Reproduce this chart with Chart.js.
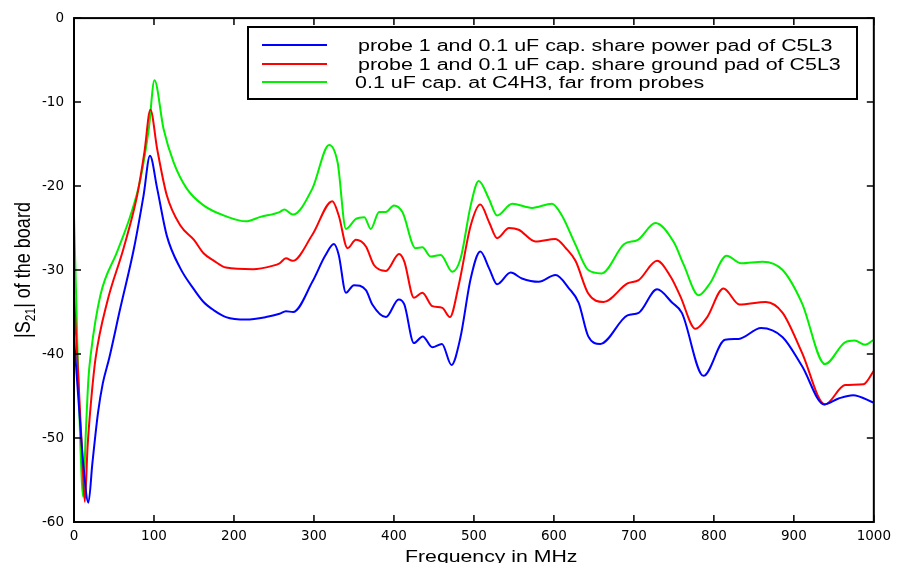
<!DOCTYPE html>
<html>
<head>
<meta charset="utf-8">
<title>|S21| of the board</title>
<script src="https://cdn.jsdelivr.net/npm/chart.js@4/dist/chart.umd.min.js"></script>
<style>
  html, body { margin: 0; padding: 0; background: #fff; }
  #wrap { width: 897px; height: 563px; }
</style>
</head>
<body>
<div id="wrap"><canvas id="s21Chart" width="897" height="563"></canvas></div>
<script>
// Frequency axis ticks (MHz) and magnitude ticks (dB)
const freqTicks = [0, 100, 200, 300, 400, 500, 600, 700, 800, 900, 1000];
const dbTicks = [0, -10, -20, -30, -40, -50, -60];

// probe 1 and cap share power pad
const freqPower = [0, 6, 12, 18, 23, 30, 36, 44, 58, 75, 87, 95, 104, 116, 133, 150, 162, 175, 190, 215, 240, 257, 265, 274, 298, 314, 325, 331, 340, 350, 365, 373, 390, 406, 413, 425, 436, 448, 460, 472, 483, 496, 508, 519, 529, 546, 560, 581, 602, 619, 631, 643, 658, 692, 706, 729, 748, 760, 787, 814, 831, 859, 886, 910, 938, 956, 974, 1000];
const s21Power = [-38, -46, -53.5, -57.7, -53, -47, -43.5, -40.5, -34.5, -27.4, -21.1, -16.4, -20.3, -25.9, -29.8, -32.3, -33.8, -34.8, -35.6, -35.9, -35.6, -35.2, -34.9, -35.0, -31.4, -28.3, -26.9, -28.2, -32.7, -31.8, -32.4, -34.1, -35.6, -33.5, -34.1, -38.7, -37.9, -39.2, -38.8, -41.3, -38.1, -31.0, -27.8, -29.8, -31.7, -30.3, -31.0, -31.4, -30.6, -32.2, -33.9, -37.9, -38.8, -35.4, -35.1, -32.3, -33.9, -35.1, -42.6, -38.3, -38.2, -36.9, -38.0, -41.4, -46.0, -45.3, -44.9, -45.8];

// probe 1 and cap share ground pad
const freqGround = [0, 5, 10, 13.5, 17, 21, 27, 41.5, 62, 79, 88, 95.5, 104, 116, 133, 150, 162, 175, 190, 224, 248, 257, 265, 273.5, 298, 323, 331, 342, 352.5, 365, 375, 390, 406.5, 413, 425, 435.5, 448, 460.5, 470, 481, 496, 508, 519, 529, 544, 556, 577, 602, 615, 627, 643, 662, 692, 706, 729, 746, 758, 777, 791, 812, 832, 865, 886, 910, 939, 964, 987, 1000];
const s21Ground = [-33, -42, -51.5, -57.6, -51, -46, -40.5, -33.8, -27.4, -21.1, -16, -10.9, -15.6, -21.1, -24.7, -26.4, -28.0, -28.9, -29.7, -29.9, -29.5, -29.2, -28.6, -28.9, -25.8, -21.8, -23.5, -27.4, -26.4, -27.2, -29.4, -30.1, -28.1, -29.0, -33.3, -32.7, -34.3, -34.5, -35.6, -31.8, -24.7, -22.2, -24.3, -26.2, -25.0, -25.2, -26.6, -26.3, -27.4, -28.9, -32.8, -33.8, -31.6, -31.2, -28.9, -30.8, -33.1, -37.0, -35.7, -32.2, -34.1, -33.8, -35.1, -39.8, -46.0, -43.7, -43.6, -42.0];

// cap at C4H3, far from probes
const freqFar = [0, 4, 8, 11.5, 14.5, 18, 21, 33, 54, 70.6, 83, 93.5, 100.6, 112, 124.7, 141, 162, 190, 215, 232, 257, 263, 273.5, 298, 319, 329.6, 340, 352.5, 363, 371, 381.5, 390, 400, 410.6, 427, 435.5, 446, 458.5, 473, 483.4, 496, 506, 518.7, 529, 547.8, 572.7, 597.6, 610, 626.6, 643, 659.5, 688, 705, 727, 750, 762, 781, 795, 816, 834, 861, 886, 910, 939, 964, 976, 989, 1000];
const s21Far = [-23.5, -38, -51, -57, -50, -43, -40, -33, -27.8, -23.5, -19.2, -13.2, -7.4, -13.2, -17.2, -20.3, -22.3, -23.6, -24.2, -23.7, -23.1, -22.8, -23.4, -20.3, -15.1, -17.2, -25.1, -23.9, -23.7, -25.1, -23.1, -23.1, -22.3, -23.1, -27.4, -27.3, -28.4, -28.2, -30.2, -28.6, -22.3, -19.4, -21.5, -23.5, -22.1, -22.6, -22.1, -23.5, -26.9, -30.0, -30.4, -26.9, -26.4, -24.4, -26.7, -29.3, -33.0, -31.6, -28.3, -29.2, -29.0, -30.0, -33.9, -41.2, -38.6, -38.4, -38.9, -38.3];

const seriesLabels = [
  'probe 1 and 0.1 uF cap. share power pad of C5L3',
  'probe 1 and 0.1 uF cap. share ground pad of C5L3',
  '0.1 uF cap. at C4H3, far from probes'
];
const seriesColors = ['#0000ff', '#ff0000', '#00f000'];

function toPoints(xs, ys) {
  return xs.map((x, i) => ({ x: x, y: ys[i] }));
}

// Box around the plot with inward tick marks on all four sides
const framePlugin = {
  id: 'frame',
  afterDatasetsDraw(chart) {
    const { ctx, chartArea: a, scales } = chart;
    ctx.save();
    ctx.strokeStyle = '#000';
    ctx.lineWidth = 2;
    ctx.strokeRect(a.left, a.top, a.right - a.left, a.bottom - a.top);
    ctx.lineWidth = 1.5;
    const len = 7;
    ctx.beginPath();
    freqTicks.forEach(v => {
      const px = scales.x.getPixelForValue(v);
      ctx.moveTo(px, a.bottom); ctx.lineTo(px, a.bottom - len);
      ctx.moveTo(px, a.top); ctx.lineTo(px, a.top + len);
    });
    dbTicks.forEach(v => {
      const py = scales.y.getPixelForValue(v);
      ctx.moveTo(a.left, py); ctx.lineTo(a.left + len, py);
      ctx.moveTo(a.right, py); ctx.lineTo(a.right - len, py);
    });
    ctx.stroke();
    ctx.restore();
  }
};

// Boxed key in the upper right, plus axis titles (subscript in the y title)
const keyPlugin = {
  id: 'key',
  afterDraw(chart) {
    const ctx = chart.ctx;
    ctx.save();
    // key box
    ctx.fillStyle = '#fff';
    ctx.fillRect(248, 27, 609, 72);
    ctx.strokeStyle = '#000';
    ctx.lineWidth = 2;
    ctx.strokeRect(248, 27, 609, 72);

    const rows = [45, 64, 82];
    const textX = [358, 358, 355];
    chart.data.datasets.forEach((ds, i) => {
      ctx.strokeStyle = ds.borderColor;
      ctx.lineWidth = 2;
      ctx.beginPath();
      ctx.moveTo(262, rows[i]);
      ctx.lineTo(327, rows[i]);
      ctx.stroke();
      ctx.save();
      ctx.translate(textX[i], rows[i] + 5.5);
      ctx.scale(1.34, 1);
      ctx.fillStyle = '#000';
      ctx.font = '16px "Liberation Sans", Arial, sans-serif';
      ctx.textBaseline = 'alphabetic';
      ctx.fillText(ds.label, 0, 0);
      ctx.restore();
    });

    // x title
    ctx.save();
    ctx.translate(405, 562);
    ctx.scale(1.25, 1);
    ctx.fillStyle = '#000';
    ctx.font = '17px "Liberation Sans", Arial, sans-serif';
    ctx.fillText('Frequency in MHz', 0, 0);
    ctx.restore();

    // y title: |S21| of the board
    ctx.save();
    ctx.translate(30, 270);
    ctx.rotate(-Math.PI / 2);
    ctx.scale(1, 1.2);
    ctx.fillStyle = '#000';
    const big = '18px "Liberation Sans", Arial, sans-serif';
    const small = '12px "Liberation Sans", Arial, sans-serif';
    const parts = [['|S', big, 0], ['21', small, 4], ['| of the board', big, 0]];
    let total = 0;
    parts.forEach(p => { ctx.font = p[1]; total += ctx.measureText(p[0]).width; });
    let x = -total / 2;
    parts.forEach(p => {
      ctx.font = p[1];
      ctx.fillText(p[0], x, p[2]);
      x += ctx.measureText(p[0]).width;
    });
    ctx.restore();

    ctx.restore();
  }
};

const tickFont = { family: '"DejaVu Sans", sans-serif', size: 13.5 };

const ctx = document.getElementById('s21Chart').getContext('2d');
const s21Chart = new Chart(ctx, {
  type: 'line',
  data: {
    datasets: [
      { label: seriesLabels[0], data: toPoints(freqPower, s21Power), borderColor: seriesColors[0] },
      { label: seriesLabels[1], data: toPoints(freqGround, s21Ground), borderColor: seriesColors[1] },
      { label: seriesLabels[2], data: toPoints(freqFar, s21Far), borderColor: seriesColors[2] }
    ].map(ds => Object.assign(ds, {
      borderWidth: 2,
      pointRadius: 0,
      fill: false,
      cubicInterpolationMode: 'monotone'
    }))
  },
  options: {
    responsive: false,
    animation: false,
    layout: { padding: { left: 0, right: 21, top: 15, bottom: 0 } },
    plugins: {
      legend: { display: false },
      tooltip: { enabled: false }
    },
    scales: {
      x: {
        type: 'linear',
        min: 0,
        max: 1000,
        grid: { display: false, drawTicks: false },
        border: { display: false },
        afterBuildTicks: scale => { scale.ticks = freqTicks.map(v => ({ value: v })); },
        afterFit: scale => { scale.height = 41; },
        ticks: {
          padding: 6,
          color: '#000',
          maxRotation: 0,
          autoSkip: false,
          font: tickFont,
          callback: v => String(v)
        }
      },
      y: {
        type: 'linear',
        min: -60,
        max: 0,
        grid: { display: false, drawTicks: false },
        border: { display: false },
        afterBuildTicks: scale => { scale.ticks = dbTicks.map(v => ({ value: v })); },
        afterFit: scale => { scale.width = 74; },
        ticks: {
          padding: 10,
          color: '#000',
          autoSkip: false,
          font: tickFont,
          callback: v => String(v)
        }
      }
    }
  },
  plugins: [framePlugin, keyPlugin]
});
</script>
</body>
</html>
